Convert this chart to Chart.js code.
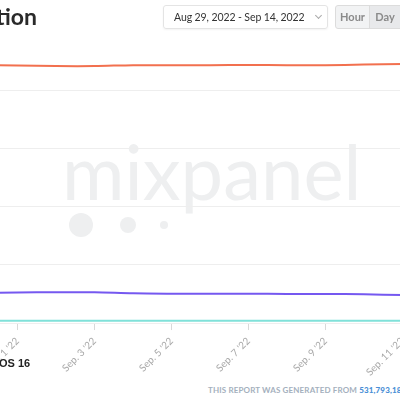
<!DOCTYPE html>
<html>
<head>
<meta charset="utf-8">
<script src="https://cdn.jsdelivr.net/npm/chart.js@4/dist/chart.umd.min.js"></script>
<style>
  html, body {
    margin: 0;
    padding: 0;
    width: 400px;
    height: 400px;
    overflow: hidden;
    background: #fff;
    font-family: Lato, "Noto Sans", sans-serif;
  }
  #page { position: relative; width: 400px; height: 400px; overflow: hidden; }
  .title {
    position: absolute; right: 363px; top: 2px;
    font-size: 23px; font-weight: 700; color: #2a2a2a; white-space: nowrap;
  }
  .picker {
    position: absolute; left: 163px; top: 5px; width: 163px; height: 22px;
    border: 1px solid #e4e4e4; border-radius: 3px; box-shadow: 0 1px 2px rgba(0,0,0,0.05);
    font-size: 10.5px; letter-spacing: -0.1px; color: #333; line-height: 22px;
  }
  .picker span { position: absolute; left: 10px; top: 0; white-space: nowrap; }
  .chev {
    position: absolute; left: 152px; top: 7px; width: 4px; height: 4px;
    border-right: 1px solid #aaa; border-bottom: 1px solid #aaa; transform: rotate(45deg);
  }
  .btns {
    position: absolute; left: 335px; top: 5px; height: 22px; width: 80px;
    border: 1px solid #dcdcdc; border-radius: 3px; background: #f2f3f4;
    font-size: 11px; font-weight: 700; color: #8a8a8a; line-height: 22px;
  }
  .btns .hour { position: absolute; left: 0; width: 33px; text-align: center; border-right: 1px solid #dcdcdc; }
  .btns .day { position: absolute; left: 34px; width: 30px; text-align: center; background: #e8e9eb; }
  .wm {
    position: absolute; left: 62px; top: 125px;
    font-size: 76px; font-weight: 400; color: #eeeff0; white-space: nowrap;
  }
  .dot { position: absolute; border-radius: 50%; background: #eeeff0; }
  #wrap { position: absolute; left: -140px; top: 0; width: 700px; height: 384px; }
  .legend {
    position: absolute; left: -4px; top: 357px; font-size: 11px; font-weight: 700; color: #222;
    font-family: "Liberation Sans", Arial, sans-serif;
  }
  .footer {
    position: absolute; left: 208px; top: 385px; font-size: 8px; letter-spacing: 0.15px;
    color: #a4b0bd; white-space: nowrap; font-weight: 700;
  }
  .footer b { color: #4a8fd6; }
</style>
</head>
<body>
<div id="page">
  <div class="wm">mixpanel</div>
  <div class="dot" style="left:69px;top:213px;width:24px;height:24px"></div>
  <div class="dot" style="left:120px;top:217px;width:16px;height:16px"></div>
  <div class="dot" style="left:160px;top:221px;width:8px;height:8px"></div>

  <div id="wrap"><canvas id="chart"></canvas></div>

  <div class="title">iOS Version Adoption</div>
  <div class="picker"><span>Aug 29, 2022 - Sep 14, 2022</span><div class="chev"></div></div>
  <div class="btns"><div class="hour">Hour</div><div class="day">Day</div></div>

  <div class="legend">iOS 16</div>
  <div class="footer">THIS REPORT WAS GENERATED FROM <b>531,793,189</b> EVENTS</div>
</div>

<script>
// dates shown on the x axis (every other one gets a label)
const dates = [
  "Aug. 29 '22", "Aug. 30 '22", "Aug. 31 '22", "Sep. 1 '22", "Sep. 2 '22",
  "Sep. 3 '22", "Sep. 4 '22", "Sep. 5 '22", "Sep. 6 '22", "Sep. 7 '22",
  "Sep. 8 '22", "Sep. 9 '22", "Sep. 10 '22", "Sep. 11 '22", "Sep. 12 '22",
  "Sep. 13 '22", "Sep. 14 '22"
];

// share of users (%)
const ios15 = [88.6, 88.6, 88.6, 88.5, 88.3, 88.3, 88.6, 88.6, 88.6, 88.7, 88.6, 88.6, 88.8, 89.0, 89.0, 89.0, 89.0];
const ios14 = [10.3, 10.3, 10.4, 10.5, 10.6, 10.6, 10.2, 10.1, 10.1, 10.1, 10.0, 10.0, 9.9, 9.6, 9.5, 9.5, 9.5];
const ios16 = [0.8, 0.8, 0.8, 0.8, 0.8, 0.8, 0.8, 0.8, 0.8, 0.8, 0.8, 0.8, 0.8, 0.8, 0.8, 0.8, 0.8];

const yTicks = [0, 20, 40, 60, 80, 100];

new Chart(document.getElementById("chart"), {
    type: "line",
    data: {
        labels: dates,
        datasets: [
            { label: "iOS 15", data: ios15, borderColor: "#f2704f", borderWidth: 2 },
            { label: "iOS 14", data: ios14, borderColor: "#7558f0", borderWidth: 2 },
            { label: "iOS 16", data: ios16, borderColor: "#80e1d9", borderWidth: 2 }
        ]
    },
    options: {
        responsive: true,
        maintainAspectRatio: false,
        animation: false,
        layout: { padding: { top: 32, left: 42, right: 42, bottom: 0 } },
        elements: {
            point: { radius: 0 },
            line: { tension: 0.3 }
        },
        plugins: {
            legend: { display: false },
            tooltip: { enabled: false }
        },
        scales: {
            x: {
                border: { display: false },
                grid: {
                    drawOnChartArea: false,
                    tickLength: 7,
                    color: ctx => ctx.index % 2 === 1 ? "#d9d9d9" : "rgba(0,0,0,0)"
                },
                ticks: {
                    autoSkip: false,
                    minRotation: 45,
                    maxRotation: 45,
                    padding: 5,
                    color: "#a8a8a8",
                    font: { family: "Lato", size: 10 },
                    callback: (v, i) => i % 2 === 1 ? dates[i] : ""
                }
            },
            y: {
                min: yTicks[0],
                max: yTicks[yTicks.length - 1],
                border: { display: false },
                grid: {
                    drawTicks: false,
                    color: ctx => ctx.tick.value === 100 ? "rgba(0,0,0,0)" : "#eeeeee"
                },
                ticks: { display: false, stepSize: 20 }
            }
        }
    }
});
</script>
</body>
</html>
